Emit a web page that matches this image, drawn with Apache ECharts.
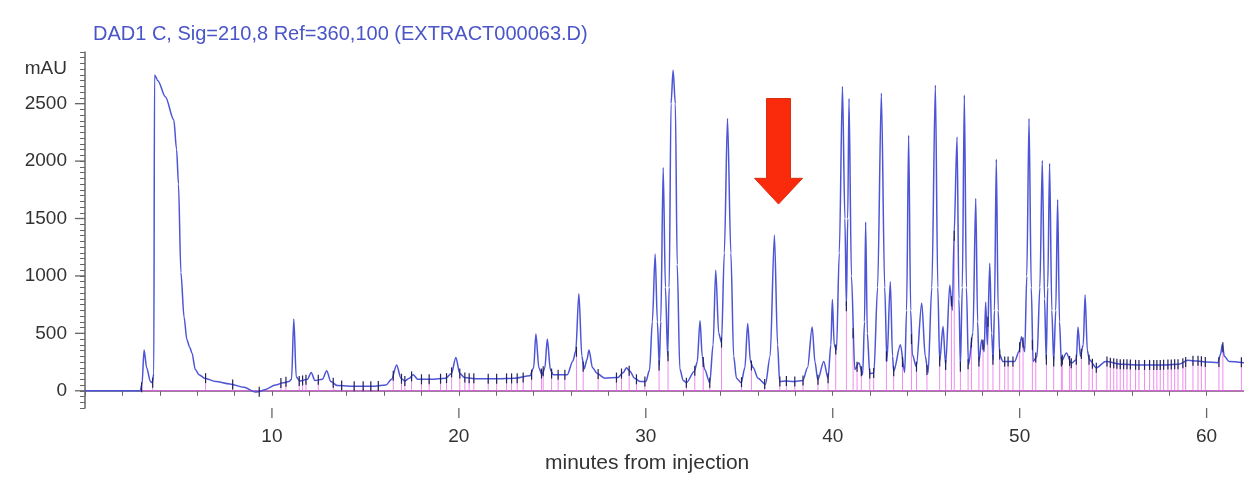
<!DOCTYPE html>
<html>
<head>
<meta charset="utf-8">
<script src="https://cdn.jsdelivr.net/npm/echarts@6/dist/echarts.min.js"></script>
<style>
  html, body { margin: 0; padding: 0; background: #fff; }
  #chart { width: 1244px; height: 481px; }
</style>
</head>
<body>
<div id="chart"></div>
<script>
var TITLE = "DAD1 C, Sig=210,8 Ref=360,100 (EXTRACT000063.D)";
var X_NAME = "minutes from injection";
var Y_UNIT = "mAU";
var X_LABELS = [10, 20, 30, 40, 50, 60];
var Y_LABELS = [0, 500, 1000, 1500, 2000, 2500];
var Y_UNIT_AT = 2800;
var X_MIN = 0, X_MAX = 62;
var Y_MIN = -150, Y_MAX = 2950;

// detector trace [minutes, mAU]
var TRACE = [
  [0, 0], [2.95, 0], [3.05, 60], [3.16, 355], [3.3, 200], [3.5, 80], [3.6, 70], [3.68, 150],
  [3.72, 2750], [3.9, 2700], [4.3, 2560], [4.75, 2360], [4.9, 2100], [5.0, 1800], [5.13, 1030],
  [5.3, 640], [5.45, 445], [5.6, 380], [5.72, 330], [5.9, 185], [6.1, 140], [6.4, 110],
  [7.0, 80], [7.75, 60], [8.5, 30], [9.1, -10], [9.4, -5], [9.6, 10], [10.2, 50], [10.6, 70],
  [10.9, 80], [11.05, 100], [11.17, 625], [11.3, 120], [11.5, 85], [11.9, 100], [12.1, 160],
  [12.3, 90], [12.7, 100], [12.93, 175], [13.15, 80], [13.5, 45], [14.5, 40], [15.5, 40],
  [16.1, 50], [16.4, 100], [16.67, 225], [16.9, 110], [17.1, 85], [17.35, 110], [17.56, 140],
  [17.8, 100], [18.5, 100], [19.3, 110], [19.6, 150], [19.84, 290], [20.05, 150], [20.3, 115],
  [21, 105], [22, 105], [23, 110], [23.8, 130], [24.0, 200], [24.12, 495], [24.28, 200],
  [24.45, 140], [24.6, 200], [24.73, 450], [24.9, 180], [25.05, 140], [25.8, 140], [26.1, 260],
  [26.25, 345], [26.42, 845], [26.58, 300], [26.7, 190], [26.85, 270], [26.96, 355], [27.15, 200],
  [27.4, 150], [27.8, 110], [28.5, 115], [28.8, 160], [28.96, 200], [29.15, 170], [29.4, 110],
  [29.7, 80], [30.0, 80], [30.2, 180], [30.35, 600], [30.5, 1190], [30.62, 600], [30.72, 220],
  [30.8, 600], [30.93, 1945], [31.05, 900], [31.17, 300], [31.25, 900], [31.35, 2500],
  [31.46, 2790], [31.58, 2500], [31.68, 1100], [31.82, 190], [32.0, 90], [32.17, 70],
  [32.6, 170], [32.75, 250], [32.9, 610], [33.02, 300], [33.15, 185], [33.42, 70], [33.6, 400],
  [33.74, 1050], [33.9, 500], [34.05, 420], [34.2, 1200], [34.37, 2370], [34.55, 1200],
  [34.7, 300], [34.85, 110], [35.1, 70], [35.3, 200], [35.45, 585], [35.6, 250], [35.75, 200],
  [36.0, 110], [36.4, 55], [36.65, 300], [36.88, 1355], [37.05, 400], [37.16, 80], [37.5, 85],
  [37.9, 80], [38.4, 90], [38.65, 200], [38.9, 555], [39.05, 250], [39.2, 95], [39.52, 255],
  [39.75, 110], [39.9, 400], [39.98, 795], [40.08, 400], [40.2, 355], [40.35, 1200],
  [40.52, 2650], [40.65, 1500], [40.73, 735], [40.8, 1500], [40.87, 2545], [41.0, 1000],
  [41.18, 185], [41.4, 245], [41.6, 140], [41.7, 600], [41.76, 1470], [41.85, 500], [41.98, 150],
  [42.2, 155], [42.4, 900], [42.6, 2590], [42.78, 900], [42.9, 255], [43.08, 950], [43.2, 300],
  [43.26, 170], [43.62, 400], [43.85, 160], [43.95, 700], [44.06, 2225], [44.17, 700],
  [44.26, 315], [44.47, 210], [44.76, 765], [44.95, 300], [45.1, 155], [45.3, 900], [45.49, 2660],
  [45.62, 900], [45.72, 255], [45.9, 560], [46.04, 225], [46.26, 920], [46.4, 700], [46.49, 1355],
  [46.65, 2210], [46.75, 800], [46.83, 210], [46.93, 900], [47.04, 2575], [47.15, 900],
  [47.26, 225], [47.5, 505], [47.65, 1675], [47.75, 600], [47.82, 255], [47.97, 445], [48.1, 340],
  [48.18, 770], [48.27, 400], [48.4, 1110], [48.5, 500], [48.58, 270], [48.65, 700], [48.75, 2015],
  [48.85, 700], [48.93, 315], [49.1, 255], [49.73, 255], [49.96, 340], [50.1, 470], [50.27, 340],
  [50.38, 1000], [50.5, 2370], [50.62, 900], [50.72, 255], [50.93, 300], [51.08, 900],
  [51.21, 2005], [51.33, 800], [51.42, 270], [51.5, 900], [51.6, 1980], [51.72, 700],
  [51.82, 255], [51.93, 700], [52.03, 1665], [52.13, 600], [52.23, 255], [52.5, 330],
  [52.76, 240], [53.03, 270], [53.12, 555], [53.25, 300], [53.4, 400], [53.5, 835], [53.62, 350],
  [53.73, 270], [54.1, 200], [54.6, 255], [55.5, 230], [56.5, 225], [57.5, 225], [58.5, 230],
  [59.0, 265], [59.5, 260], [60.0, 250], [60.6, 245], [60.75, 320], [60.84, 405], [60.95, 300],
  [61.2, 255], [62, 245]
];

// integration baseline
var BASELINE = [[3.0, 0], [62, 0]];

// peak start/end drop lines [minutes, mAU at trace]
var DROPS = [
  [3.03, 30], [3.62, 70], [6.45, 110], [7.9, 55], [9.32, -8], [10.48, 68], [10.75, 78],
  [11.46, 85], [11.64, 90], [11.82, 95], [12.48, 95], [13.28, 70], [13.73, 45], [14.4, 40],
  [14.88, 40], [15.29, 40], [15.69, 42], [16.49, 130], [16.93, 105], [17.11, 85], [17.47, 125],
  [18.0, 100], [18.41, 100], [19.02, 105], [19.34, 110], [19.61, 160], [20.05, 150],
  [20.32, 115], [20.55, 110], [20.8, 108], [21.57, 105], [22.02, 105], [22.55, 108],
  [22.82, 108], [23.12, 110], [23.44, 115], [23.89, 140], [24.42, 150], [24.51, 170],
  [24.96, 150], [25.31, 140], [25.67, 140], [26.29, 340], [26.65, 210], [27.45, 145],
  [28.43, 115], [28.7, 150], [29.11, 175], [29.5, 100], [29.95, 80], [30.71, 220], [31.19, 300],
  [32.17, 70], [32.62, 175], [33.07, 250], [33.42, 70], [34.05, 420], [35.12, 75], [35.65, 220],
  [36.36, 58], [37.17, 80], [37.52, 85], [37.97, 80], [38.41, 90], [39.21, 95], [39.75, 110],
  [40.16, 360], [40.73, 735], [41.09, 500], [41.3, 210], [41.53, 170], [41.98, 150],
  [42.19, 155], [42.87, 300], [43.26, 170], [43.73, 250], [44.21, 450], [44.48, 210],
  [45.04, 180], [45.72, 255], [46.04, 225], [46.35, 780], [46.5, 1350], [46.83, 210],
  [47.24, 230], [47.42, 420], [47.82, 255], [48.04, 400], [48.3, 600], [48.57, 270],
  [48.93, 315], [49.2, 255], [49.38, 255], [49.64, 255], [50.0, 380], [50.18, 420], [50.68, 400],
  [50.86, 290], [51.43, 270], [51.82, 255], [52.23, 255], [52.28, 270], [52.67, 260],
  [52.76, 240], [53.03, 270], [53.3, 320], [53.71, 270], [53.89, 235], [54.1, 200], [54.67, 255],
  [54.85, 245], [55.03, 240], [55.2, 235], [55.38, 232], [55.56, 230], [55.74, 230],
  [55.92, 228], [56.2, 226], [56.38, 225], [56.68, 225], [56.95, 225], [57.17, 225],
  [57.34, 225], [57.52, 225], [57.7, 226], [57.93, 228], [58.11, 228], [58.29, 230],
  [58.47, 230], [58.73, 240], [58.88, 250], [59.27, 262], [59.54, 262], [59.72, 258],
  [59.93, 250], [60.66, 250], [60.87, 380], [61.86, 248]
];

// red marker arrow [minutes, top, neck, tip]
var ARROW = [[37.1, 2545, 1850, 1626]];

var FONT = "Liberation Sans, Arial, sans-serif";
var axisColor = "#666";
var chart = echarts.init(document.getElementById("chart"));

// long ticks at the labelled values, placed through the axis scales
var majorTicks = X_LABELS.map(function (t) { return [t, Y_MIN, 0]; })
  .concat(Y_LABELS.map(function (v) { return [X_MIN, v, 1]; }));

var option = {
  backgroundColor: "#fff",
  animation: false,
  title: [
    {
      text: TITLE,
      left: 88,
      top: 19,
      textStyle: { color: "#4a55c8", fontSize: 20, fontWeight: "normal", fontFamily: FONT }
    },
    {
      text: X_NAME,
      left: 540,
      top: 448,
      textStyle: { color: "#333", fontSize: 21, fontWeight: "normal", fontFamily: FONT }
    }
  ],
  grid: { left: 85, right: 0, top: 52, bottom: 73 },
  xAxis: {
    type: "value",
    min: X_MIN,
    max: X_MAX,
    interval: 2,
    axisLine: { lineStyle: { color: axisColor, width: 1.5 } },
    axisTick: { length: 5, lineStyle: { color: axisColor } },
    splitLine: { show: false },
    axisLabel: {
      customValues: X_LABELS,
      margin: 19,
      color: "#333",
      fontSize: 19,
      fontFamily: FONT
    }
  },
  yAxis: {
    type: "value",
    min: Y_MIN,
    max: Y_MAX,
    interval: 50,
    axisLine: { show: true, lineStyle: { color: axisColor, width: 1.5 } },
    axisTick: { show: true, length: 5, lineStyle: { color: axisColor } },
    splitLine: { show: false },
    axisLabel: {
      customValues: Y_LABELS.concat([Y_UNIT_AT]),
      formatter: function (v) { return v === Y_UNIT_AT ? Y_UNIT : String(v); },
      margin: 18,
      color: "#333",
      fontSize: 19,
      fontFamily: FONT
    }
  },
  series: [
    {
      type: "custom",
      name: "majorTicks",
      clip: false,
      z: 1,
      encode: { x: 0, y: 1 },
      renderItem: function (params, api) {
        var p = api.coord([api.value(0), api.value(1)]);
        var vertical = api.value(2) === 0;
        return {
          type: "line",
          shape: vertical
            ? { x1: p[0], y1: p[1], x2: p[0], y2: p[1] + 10 }
            : { x1: p[0] - 10, y1: p[1], x2: p[0], y2: p[1] },
          style: { stroke: axisColor, lineWidth: 1.3 }
        };
      },
      data: majorTicks
    },
    {
      type: "custom",
      name: "drops",
      z: 1,
      encode: { x: 0, y: 1 },
      renderItem: function (params, api) {
        var top = api.coord([api.value(0), api.value(1)]);
        var bot = api.coord([api.value(0), 0]);
        return {
          type: "line",
          shape: { x1: bot[0], y1: bot[1], x2: top[0], y2: top[1] },
          style: { stroke: "#ee8cee", lineWidth: 1 }
        };
      },
      data: DROPS
    },
    {
      type: "line",
      name: "baseline",
      z: 2,
      symbol: "none",
      lineStyle: { color: "#e05ce0", width: 1.2 },
      data: BASELINE
    },
    {
      type: "line",
      name: "DAD1 C",
      z: 3,
      symbol: "none",
      smooth: 0.3,
      smoothMonotone: "x",
      lineStyle: { color: "#4d55d6", width: 1.5 },
      data: TRACE
    },
    {
      type: "custom",
      name: "ticks",
      z: 4,
      encode: { x: 0, y: 1 },
      renderItem: function (params, api) {
        var p = api.coord([api.value(0), api.value(1)]);
        return {
          type: "line",
          shape: { x1: p[0], y1: p[1] - 5, x2: p[0], y2: p[1] + 5 },
          style: { stroke: "#23235a", lineWidth: 1.2 }
        };
      },
      data: DROPS
    },
    {
      type: "custom",
      name: "arrow",
      z: 5,
      encode: { x: 0, y: [1, 2, 3] },
      renderItem: function (params, api) {
        var x = api.value(0);
        var top = api.coord([x, api.value(1)]);
        var neck = api.coord([x, api.value(2)]);
        var tip = api.coord([x, api.value(3)]);
        var sw = 12, hw = 24;
        return {
          type: "polygon",
          shape: {
            points: [
              [top[0] - sw, top[1]], [top[0] + sw, top[1]], [top[0] + sw, neck[1]],
              [top[0] + hw, neck[1]], [tip[0], tip[1]], [top[0] - hw, neck[1]],
              [top[0] - sw, neck[1]]
            ]
          },
          style: { fill: "#fa2a0c", stroke: "#d8300f", lineWidth: 1 }
        };
      },
      data: ARROW
    }
  ]
};

chart.setOption(option);
</script>
</body>
</html>
